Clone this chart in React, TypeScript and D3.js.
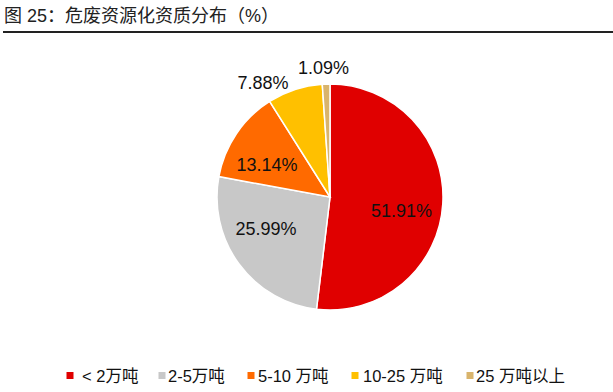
import React from "react";
import * as d3 from "d3";

const categories = ["< 2万吨", "2-5万吨", "5-10 万吨", "10-25 万吨", "25 万吨以上"];
const values = [51.91, 25.99, 13.14, 7.88, 1.09];
const labels = ["51.91%", "25.99%", "13.14%", "7.88%", "1.09%"];
const colors = ["#E00000", "#C8C8C8", "#FF6A00", "#FFC000", "#D9B46C"];
const title = "图 25：危废资源化资质分布（%）";

export default function App() {
  const W = 613, H = 392;
  const cx = 330, cy = 197, r = 113;
  const pie = d3.pie<number>().sort(null).value((d) => d);
  const arcs = pie(values);
  const arc = d3.arc<d3.PieArcDatum<number>>().innerRadius(0).outerRadius(r);
  const font = "'Liberation Sans', Arial, 'Noto Sans CJK SC', sans-serif";
  // label layout: radius factor and angular nudge (degrees) from slice mid-angle
  const labelRadius = [0.645, 0.634, 0.626, 1.17, 1.15];
  const labelShift = [7.6, 9.7, -7, -12.3, -0.9];
  const legendX = [70, 162, 251, 355, 470];
  const legendDx = [12, 6, 7, 8, 6];
  const legendY = 376;
  return (
    <svg width={W} height={H} style={{ position: "absolute", left: 0, top: 0 }}>
      <rect width={W} height={H} fill="#fff" />
      <text x={4} y={22} fontSize={18} fontFamily={font} fill="#222">{title}</text>
      <rect x={3} y={31} width={W - 3} height={2} fill="#222" />
      <g transform={`translate(${cx},${cy})`}>
        {arcs.map((a, i) => (
          <path key={i} d={arc(a) || ""} fill={colors[i]} stroke="#fff" strokeWidth={1.5} />
        ))}
        {arcs.map((a, i) => {
          const mid = (a.startAngle + a.endAngle) / 2 + (labelShift[i] * Math.PI) / 180;
          const rr = r * labelRadius[i];
          const x = Math.sin(mid) * rr;
          const y = -Math.cos(mid) * rr;
          return (
            <text key={i} x={x} y={y} dy="0.35em" textAnchor="middle" fontSize={18} fontFamily={font} fill="#111">
              {labels[i]}
            </text>
          );
        })}
      </g>
      {categories.map((c, i) => (
        <g key={i}>
          <rect x={legendX[i] - 3.5} y={legendY - 4} width={7} height={7} fill={colors[i]} />
          <text x={legendX[i] + legendDx[i]} y={legendY} dy="0.35em" fontSize={16.5} fontFamily={font} fill="#111">{c}</text>
        </g>
      ))}
    </svg>
  );
}
